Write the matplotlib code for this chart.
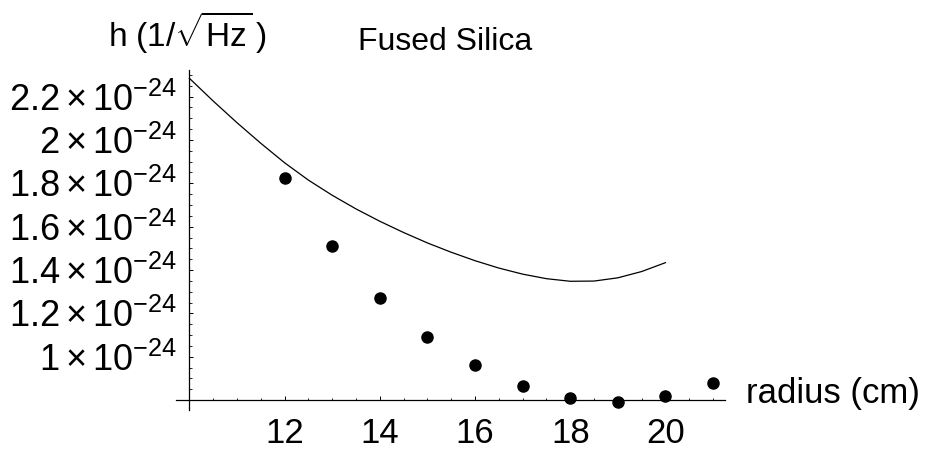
import matplotlib
matplotlib.use("Agg")
import matplotlib.pyplot as plt
import numpy as np
from matplotlib.ticker import FixedLocator

plt.rcParams['font.family'] = ['Liberation Sans', 'DejaVu Sans']
plt.rcParams['mathtext.fontset'] = 'custom'
plt.rcParams['mathtext.rm'] = 'Liberation Sans'
plt.rcParams['mathtext.it'] = 'Liberation Sans:italic'
plt.rcParams['mathtext.bf'] = 'Liberation Sans:bold'

# measured noise points (units of 1e-24)
radius_pts = [12, 13, 14, 15, 16, 17, 18, 19, 20, 21]
h_pts = [1.825, 1.512, 1.272, 1.092, 0.960, 0.865, 0.811, 0.792, 0.820, 0.880]

# model curve (units of 1e-24)
radius_curve = [10.0, 10.5, 11.0, 11.5, 12.0, 12.5, 13.0, 13.5, 14.0, 14.5, 15.0,
                15.5, 16.0, 16.5, 17.0, 17.5, 18.0, 18.5, 19.0, 19.5, 20.0]
h_curve = [2.285, 2.180, 2.080, 1.985, 1.895, 1.815, 1.745, 1.682, 1.625, 1.573, 1.525,
           1.482, 1.443, 1.409, 1.381, 1.360, 1.348, 1.349, 1.364, 1.393, 1.434]

y_major = [1.0, 1.2, 1.4, 1.6, 1.8, 2.0, 2.2]
y_labels = [r'$1\times10^{-24}$', r'$1.2\times10^{-24}$', r'$1.4\times10^{-24}$',
            r'$1.6\times10^{-24}$', r'$1.8\times10^{-24}$', r'$2\times10^{-24}$',
            r'$2.2\times10^{-24}$']
x_major = [12, 14, 16, 18, 20]

W, H = 928, 450
fig = plt.figure(figsize=(W / 100, H / 100), dpi=100)
# axes box in pixels: left 176, right 725, top 70, bottom 410
ax = fig.add_axes([176 / W, 1 - 410 / H, (725 - 176) / W, (410 - 70) / H])
ax.set_xlim(9.72, 21.25)
ax.set_ylim(0.754, 2.323)

ax.plot(radius_curve, h_curve, color='black', lw=0.9, solid_joinstyle='round')
ax.plot(radius_pts, h_pts, 'o', color='black', ms=8, mec='black')

for s in ['top', 'right']:
    ax.spines[s].set_visible(False)
ax.spines['left'].set_position(('data', 10))
ax.spines['bottom'].set_position(('data', 0.8))
ax.spines['left'].set_linewidth(0.9)
ax.spines['bottom'].set_linewidth(0.9)

ax.xaxis.set_major_locator(FixedLocator(x_major))
ax.xaxis.set_minor_locator(FixedLocator(np.arange(10.5, 21.01, 0.5)))
ax.yaxis.set_major_locator(FixedLocator(y_major))
ax.yaxis.set_minor_locator(FixedLocator(np.arange(0.85, 2.301, 0.05)))
ax.set_xticklabels([str(v) for v in x_major])
ax.set_yticklabels(y_labels)

ax.tick_params(which='major', direction='in', length=3.2, width=0.7)
ax.tick_params(which='minor', direction='in', length=1.8, width=0.6)
ax.tick_params(axis='x', which='major', pad=12, labelsize=25)
ax.tick_params(axis='y', which='major', pad=9, labelsize=26)

fig.text(108 / W, 1 - 46 / H, r'h $(1/\sqrt{\mathrm{Hz}}\,)$', fontsize=24, va='baseline', ha='left')
fig.text(358 / W, 1 - 50 / H, 'Fused Silica', fontsize=23, va='baseline', ha='left')
fig.text(746 / W, 1 - 403 / H, 'radius (cm)', fontsize=25, va='baseline', ha='left')

fig.savefig('out.png', dpi=100)
